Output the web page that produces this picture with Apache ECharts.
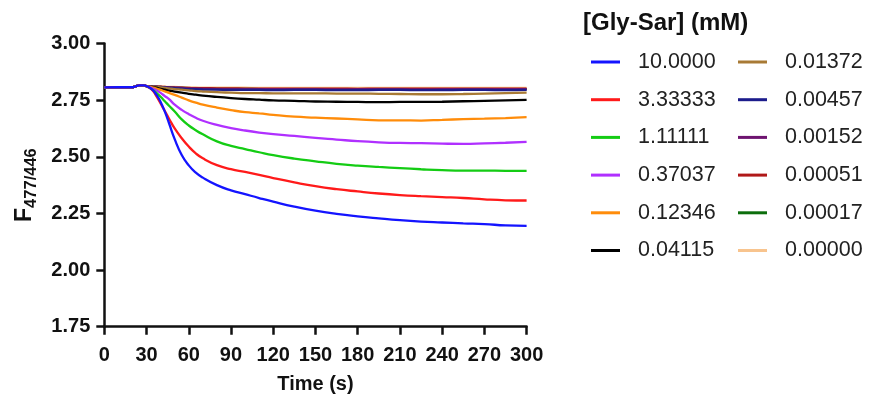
<!DOCTYPE html>
<html>
<head>
<meta charset="utf-8">
<script src="https://cdn.jsdelivr.net/npm/echarts@6/dist/echarts.min.js"></script>
<style>html,body{margin:0;padding:0;background:#fff;}#c{width:871px;height:400px;}</style>
</head>
<body>
<div id="c"></div>
<script>
// Time points (s)
var times = [0,10,20,25,28,31,34,37,40,43,46,50,55,60,65,70,80,90,100,110,120,135,150,165,180,195,210,225,240,255,270,285,300];
var base = [2.806,2.807,2.807,2.815,2.815];
// Concentration labels (mM)
var concLabels = ['10.0000','3.33333','1.11111','0.37037','0.12346','0.04115','0.01372','0.00457','0.00152','0.00051','0.00017','0.00000'];
var colors = ['#1414ff','#ff1a1a','#14cc14','#b030ff','#ff8c0a','#000000','#a87a35','#1c1c8c','#6e1470','#b01818','#0c6e0c','#f8c48e'];
// F477/446 values after the initial baseline (from t=31 s onward)
var c10000   = [2.809,2.797,2.774,2.742,2.699,2.648,2.578,2.508,2.462,2.43,2.408,2.375,2.352,2.335,2.318,2.302,2.28,2.262,2.248,2.237,2.228,2.22,2.214,2.21,2.206,2.203,2.197,2.195];
var c333333  = [2.808,2.795,2.768,2.735,2.702,2.668,2.625,2.582,2.545,2.515,2.493,2.463,2.445,2.433,2.42,2.406,2.387,2.37,2.357,2.347,2.338,2.331,2.326,2.322,2.318,2.312,2.308,2.307];
var c111111  = [2.808,2.797,2.782,2.765,2.745,2.725,2.70,2.665,2.638,2.617,2.599,2.568,2.548,2.534,2.52,2.507,2.492,2.48,2.469,2.461,2.455,2.45,2.445,2.441,2.439,2.439,2.438,2.438];
var c037037  = [2.809,2.802,2.793,2.782,2.768,2.754,2.73,2.707,2.688,2.672,2.659,2.641,2.627,2.616,2.607,2.6,2.592,2.583,2.576,2.569,2.564,2.561,2.56,2.558,2.557,2.559,2.562,2.566];
var c012346  = [2.81,2.806,2.801,2.795,2.789,2.782,2.773,2.761,2.749,2.739,2.73,2.717,2.706,2.697,2.692,2.685,2.677,2.673,2.669,2.665,2.661,2.661,2.66,2.663,2.666,2.668,2.671,2.675];
var c004115  = [2.81,2.808,2.805,2.8,2.796,2.792,2.788,2.783,2.778,2.774,2.77,2.764,2.759,2.755,2.752,2.749,2.747,2.744,2.743,2.742,2.741,2.742,2.742,2.743,2.745,2.747,2.749,2.751];
var c001372  = [2.81,2.809,2.808,2.806,2.804,2.802,2.799,2.796,2.793,2.79,2.788,2.785,2.783,2.781,2.781,2.78,2.78,2.78,2.779,2.779,2.778,2.777,2.776,2.776,2.777,2.779,2.781,2.783];
var c000457  = [2.81,2.809,2.808,2.807,2.806,2.805,2.803,2.801,2.799,2.798,2.797,2.796,2.795,2.795,2.795,2.794,2.795,2.795,2.794,2.794,2.795,2.795,2.794,2.794,2.795,2.795,2.794,2.795];
var c000152  = [2.81,2.809,2.809,2.808,2.807,2.806,2.805,2.804,2.802,2.801,2.8,2.799,2.799,2.798,2.798,2.798,2.798,2.798,2.797,2.798,2.798,2.798,2.797,2.798,2.798,2.798,2.798,2.798];
var c000051  = [2.81,2.81,2.809,2.809,2.808,2.807,2.806,2.805,2.804,2.803,2.803,2.802,2.802,2.801,2.801,2.801,2.801,2.801,2.801,2.8,2.801,2.801,2.801,2.801,2.801,2.801,2.801,2.801];
var c000017  = [2.81,2.81,2.809,2.808,2.807,2.806,2.805,2.804,2.803,2.802,2.801,2.8,2.8,2.8,2.799,2.799,2.799,2.799,2.799,2.799,2.799,2.799,2.799,2.799,2.799,2.799,2.799,2.799];
var c000000  = [2.81,2.81,2.81,2.809,2.809,2.808,2.808,2.807,2.806,2.806,2.805,2.805,2.805,2.805,2.804,2.804,2.804,2.804,2.804,2.804,2.804,2.804,2.804,2.804,2.804,2.804,2.804,2.804];
var seriesValues = [c10000,c333333,c111111,c037037,c012346,c004115,c001372,c000457,c000152,c000051,c000017,c000000];
var yTicks = [1.75,2.00,2.25,2.50,2.75,3.00];
var xTicks = [0,30,60,90,120,150,180,210,240,270,300];

var FONT = 'Liberation Sans, Arial, sans-serif';
var chart = echarts.init(document.getElementById('c'), null, {renderer:'canvas'});
var series = seriesValues.map(function(vals, i){
  var full = base.concat(vals);
  return {
    name: concLabels[i],
    type: 'line',
    data: times.map(function(t, k){ return [t, full[k]]; }),
    showSymbol: false,
    smooth: 0.5,
    z: 20 - i,
    lineStyle: {width: 2.3, color: colors[i]},
    itemStyle: {color: colors[i]},
    animation: false
  };
});
var legendBase = {
  orient: 'vertical',
  padding: 0,
  top: 51,
  itemWidth: 29,
  itemHeight: 3,
  itemGap: 15.7,
  icon: 'rect',
  selectedMode: false,
  textStyle: {fontFamily: FONT, fontSize: 21.5, color: '#222', lineHeight: 22, padding: [0,0,0,13]}
};
var option = {
  backgroundColor: '#fff',
  animation: false,
  title: {
    text: '[Gly-Sar] (mM)', left: 583, top: 11, padding: 0,
    textStyle: {fontFamily: FONT, fontSize: 24, fontWeight: 'bold', color: '#111'}
  },
  legend: [
    Object.assign({}, legendBase, {left: 591, data: concLabels.slice(0,6)}),
    Object.assign({}, legendBase, {left: 738, data: concLabels.slice(6)})
  ],
  grid: {left: 104.3, right: 344.4, top: 43.5, bottom: 73.3, containLabel: false},
  xAxis: {
    type: 'value', min: 0, max: 300, interval: 30,
    name: 'Time (s)', nameLocation: 'middle', nameGap: 48,
    nameTextStyle: {fontFamily: FONT, fontSize: 20, fontWeight: 'bold', color: '#111'},
    axisLine: {lineStyle: {color: '#111', width: 2.5}},
    axisTick: {show: true, length: 8, lineStyle: {color: '#111', width: 2.5}},
    axisLabel: {margin: 19, fontFamily: FONT, fontSize: 20, fontWeight: 'bold', color: '#111',
      formatter: function(v){ return xTicks.indexOf(v) >= 0 ? String(v) : ''; }},
    splitLine: {show: false}
  },
  yAxis: {
    type: 'value', min: 1.75, max: 3.0, interval: 0.25,
    name: '{m|F}{s|477/446}', nameLocation: 'middle', nameGap: 68, nameRotate: 90,
    nameTextStyle: {fontFamily: FONT, fontWeight: 'bold', color: '#111',
      rich: {
        m: {fontSize: 23, fontWeight: 'bold', color: '#111', fontFamily: FONT, verticalAlign: 'bottom', lineHeight: 24},
        s: {fontSize: 16.5, fontWeight: 'bold', color: '#111', fontFamily: FONT, verticalAlign: 'bottom', lineHeight: 18, padding: [0,0,-4,0]}
      }},
    axisLine: {show: true, lineStyle: {color: '#111', width: 2.5}},
    axisTick: {show: true, length: 8, lineStyle: {color: '#111', width: 2.5}},
    axisLabel: {margin: 14, fontFamily: FONT, fontSize: 20, fontWeight: 'bold', color: '#111',
      formatter: function(v){ return v.toFixed(2); }},
    splitLine: {show: false}
  },
  series: series
};
chart.setOption(option);
</script>
</body>
</html>
